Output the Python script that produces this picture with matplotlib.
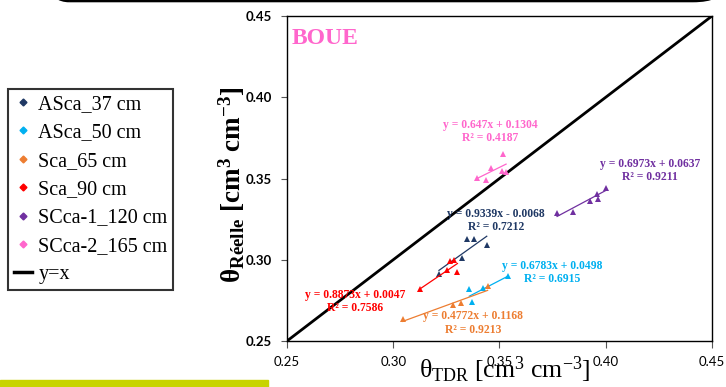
import matplotlib.pyplot as plt
from matplotlib.patches import FancyBboxPatch, Rectangle
from matplotlib.lines import Line2D

plt.rcParams['mathtext.fontset'] = 'custom'
plt.rcParams['mathtext.rm'] = 'Liberation Serif'
plt.rcParams['mathtext.bf'] = 'Liberation Serif:bold'
plt.rcParams['mathtext.it'] = 'Liberation Serif:italic'

# data
names = ['ASca_37 cm', 'ASca_50 cm', 'Sca_65 cm', 'Sca_90 cm',
         'SCca-1_120 cm', 'SCca-2_165 cm']
colors = ['#1F3864', '#00B0F0', '#ED7D31', '#FF0000', '#7030A0', '#FF66CC']

x_asca37 = [0.3215, 0.3322, 0.3346, 0.3381, 0.3440]
y_asca37 = [0.2913, 0.3012, 0.3130, 0.3130, 0.3093]
x_asca50 = [0.3358, 0.3369, 0.3422, 0.3541]
y_asca50 = [0.2817, 0.2743, 0.2827, 0.2899]
x_sca65 = [0.3044, 0.3279, 0.3317, 0.3444]
y_sca65 = [0.2637, 0.2719, 0.2735, 0.2837]
x_sca90 = [0.3124, 0.3255, 0.3269, 0.3284, 0.3302]
y_sca90 = [0.2817, 0.2934, 0.2992, 0.2997, 0.2923]
x_scca1 = [0.3771, 0.3845, 0.3926, 0.3960, 0.3965, 0.4000]
y_scca1 = [0.3288, 0.3294, 0.3364, 0.3407, 0.3374, 0.3439]
x_scca2 = [0.3393, 0.3437, 0.3460, 0.3518, 0.3513, 0.3531]
y_scca2 = [0.3503, 0.3491, 0.3565, 0.3650, 0.3548, 0.3542]

xs = [x_asca37, x_asca50, x_sca65, x_sca90, x_scca1, x_scca2]
ys = [y_asca37, y_asca50, y_sca65, y_sca90, y_scca1, y_scca2]

slopes = [0.9339, 0.6783, 0.4772, 0.8873, 0.6973, 0.647]
intercepts = [-0.0068, 0.0498, 0.1168, 0.0047, 0.0637, 0.1304]
r2 = [0.7212, 0.6915, 0.9213, 0.7586, 0.9211, 0.4187]

# where the equation labels sit (data coords)
label_pos = [(0.3484, 0.3284), (0.3747, 0.2964), (0.3375, 0.2651),
             (0.2822, 0.2786), (0.4208, 0.3591), (0.3455, 0.3830)]

ticks = [0.25, 0.30, 0.35, 0.40, 0.45]

fig = plt.figure(figsize=(7.26, 3.87), dpi=100)
ax = fig.add_axes([287 / 726, 1 - 341 / 387, 425 / 726, 325 / 387])

ax.plot([0.25, 0.45], [0.25, 0.45], color='black', lw=2, zorder=2)

for x, y, c, m, b, r, (lx, ly) in zip(xs, ys, colors, slopes, intercepts,
                                       r2, label_pos):
    ax.plot(x, y, '^', color=c, ms=4.5, mew=0, zorder=3)
    x0, x1 = min(x), max(x)
    ax.plot([x0, x1], [m * x0 + b, m * x1 + b], color=c, lw=0.9, zorder=3)
    sign = '+' if b >= 0 else '-'
    ax.text(lx, ly, f'y = {m:g}x {sign} {abs(b):.4f}', color=c,
            family='Liberation Serif', weight='bold', fontsize=8.4,
            ha='center', va='center')
    ax.text(lx, ly - 0.0082, f'R² = {r:.4f}', color=c,
            family='Liberation Serif', weight='bold', fontsize=8.4,
            ha='center', va='center')

ax.text(0.01, 0.93, 'BOUE', transform=ax.transAxes, color='#FF66CC',
        family='Liberation Serif', weight='bold', fontsize=17, va='center')

ax.set_xlim(0.25, 0.45)
ax.set_ylim(0.25, 0.45)
ax.set_xticks(ticks)
ax.set_yticks(ticks)
ax.set_xticklabels([f'{t:.2f}' for t in ticks], family='Lato', fontsize=9.5)
ax.set_yticklabels([f'{t:.2f}' for t in ticks], family='Lato', fontsize=9.5,
                   weight='bold')
ax.tick_params(axis='x', length=5, pad=6, color='#555555')
ax.tick_params(axis='y', length=4, pad=7, color='#555555')
for s in ax.spines.values():
    s.set_linewidth(1.0)

ax.set_xlabel(r'$\mathrm{θ_{TDR}\ [cm^{3}\ cm^{-3}]}$', fontsize=18.5,
              va='top')
ax.xaxis.set_label_coords(0.513, -0.04)
ax.set_ylabel(r'$\mathbf{θ_{Réelle}\ [cm^{3}\ cm^{-3}]}$', fontsize=19.5)
ax.yaxis.set_label_coords(-0.095, 0.48)

handles = [Line2D([], [], marker='D', color=c, ls='none', ms=3.5)
           for c in colors]
handles.append(Line2D([], [], color='black', lw=2.5))
leg = fig.legend(handles, names + ['y=x'], loc='upper left',
                 bbox_to_anchor=(8 / 726, 1 - 89 / 387),
                 prop={'family': 'Liberation Serif', 'size': 14.5},
                 frameon=True, fancybox=False, handlelength=0.9,
                 handletextpad=0.3, labelspacing=0.46, borderpad=0.3,
                 borderaxespad=0)
leg.get_frame().set_edgecolor('black')
leg.get_frame().set_linewidth(1.5)

# slide decorations
fig.patches.append(FancyBboxPatch((40 / 726, 4 / 387 + 0.99), 682 / 726, 0.2,
                                  boxstyle='round,pad=0,rounding_size=0.04',
                                  transform=fig.transFigure, fill=False,
                                  lw=3.5, ec='black', clip_on=False))
fig.patches.append(Rectangle((0, 0), 268 / 726, 7 / 387,
                             transform=fig.transFigure, color='#C8D400'))

fig.savefig('out.png', dpi=100)
